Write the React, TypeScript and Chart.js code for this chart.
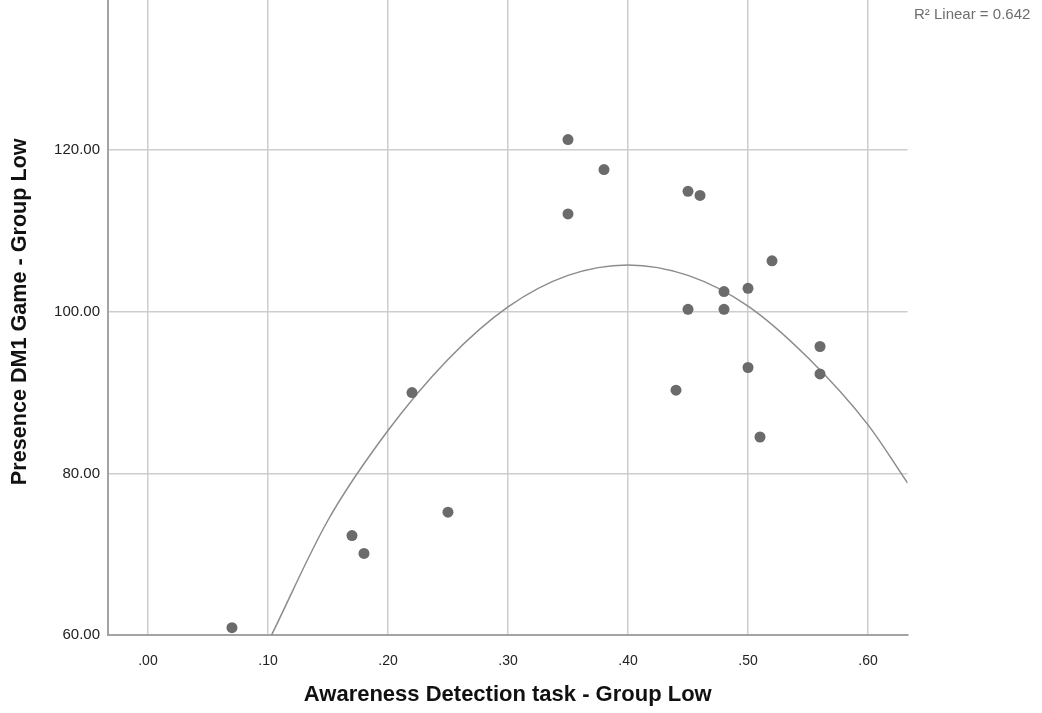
import React, { useEffect, useRef } from "react";
import { Chart, registerables } from "chart.js";

Chart.register(...registerables);

// Scatter data: Awareness Detection task (x) vs Presence DM1 Game (y), Group Low
const awareness = [0.07, 0.17, 0.18, 0.22, 0.25, 0.35, 0.35, 0.38, 0.44, 0.45, 0.45, 0.46, 0.48, 0.48, 0.5, 0.5, 0.51, 0.52, 0.56, 0.56];
const presence = [60.9, 72.3, 70.1, 90.0, 75.2, 121.3, 112.1, 117.6, 90.3, 114.9, 100.3, 114.4, 102.5, 100.3, 102.9, 93.1, 84.5, 106.3, 95.7, 92.3];

// Fit curve
const fitX = [0.103, 0.15, 0.2, 0.25, 0.3, 0.35, 0.4, 0.45, 0.5, 0.55, 0.6, 0.633];
const fitY = [60.0, 74.2, 85.3, 94.1, 100.6, 104.5, 105.8, 104.5, 100.7, 94.3, 86.0, 78.8];

const xTitle = "Awareness Detection task - Group Low";
const yTitle = "Presence DM1 Game - Group Low";
const r2Label = "R\u00B2 Linear = 0.642";

const FONT = "'Liberation Sans', Arial, sans-serif";
const Y_MAX = 140;

export default function App() {
  const ref = useRef<HTMLCanvasElement | null>(null);

  useEffect(() => {
    if (!ref.current) return;
    const r2Plugin = {
      id: "r2label",
      afterDraw(chart: any) {
        const ctx = chart.ctx;
        ctx.save();
        ctx.font = `15px ${FONT}`;
        ctx.fillStyle = "#6e6e6e";
        ctx.textAlign = "left";
        ctx.textBaseline = "middle";
        ctx.fillText(r2Label, 914, 15 + 17);
        ctx.restore();
      },
    };
    const chart = new Chart(ref.current, {
      type: "scatter",
      data: {
        datasets: [
          {
            label: "points",
            data: awareness.map((x, i) => ({ x, y: presence[i] })),
            backgroundColor: "#6b6b6b",
            borderWidth: 0,
            pointRadius: 5.5,
            pointHoverRadius: 5.5,
            clip: false as any,
          },
          {
            label: "fit",
            type: "line" as any,
            data: fitX.map((x, i) => ({ x, y: fitY[i] })),
            borderColor: "#8c8c8c",
            borderWidth: 1.5,
            pointRadius: 0,
            fill: false,
            cubicInterpolationMode: "monotone",
          } as any,
        ],
      },
      options: {
        animation: false,
        responsive: false,
        maintainAspectRatio: false,
        layout: { padding: { left: 0, right: 134.5, top: 0, bottom: 0 } },
        plugins: { legend: { display: false }, tooltip: { enabled: false }, title: { display: false } },
        scales: {
          x: {
            type: "linear",
            min: -0.0333,
            max: 0.6329,
            afterFit(scale: any) {
              scale.height = 78;
              scale.paddingLeft = 0;
              scale.paddingRight = 0;
            },
            ticks: {
              stepSize: 0.1,
              includeBounds: false,
              padding: 18,
              color: "#222",
              font: { family: FONT, size: 14 },
              callback: (v: any) => {
                const n = Math.round(Number(v) * 100) / 100;
                return n.toFixed(2).replace(/^0/, "");
              },
            },
            grid: { color: "#cdcdcd", lineWidth: 1.5, drawTicks: false },
            border: { color: "#a3a3a3", width: 2 },
            title: {
              display: true,
              text: xTitle,
              color: "#111",
              font: { family: FONT, size: 22, weight: "bold" },
              padding: { top: 5, bottom: 5 },
            },
          },
          y: {
            type: "linear",
            min: 60,
            max: Y_MAX,
            afterFit(scale: any) {
              scale.width = 108;
              scale.paddingTop = 0;
              scale.paddingBottom = 0;
            },
            ticks: {
              stepSize: 20,
              includeBounds: false,
              padding: 8,
              color: "#222",
              font: { family: FONT, size: 15 },
              callback: (v: any) => (Number(v) >= Y_MAX ? "" : Number(v).toFixed(2)),
            },
            grid: {
              color: (c: any) => (c.tick && c.tick.value >= Y_MAX ? "rgba(0,0,0,0)" : "#cdcdcd"),
              lineWidth: 1.5,
              drawTicks: false,
            },
            border: { color: "#a3a3a3", width: 2 },
            title: {
              display: true,
              text: yTitle,
              color: "#111",
              font: { family: FONT, size: 21.6, weight: "bold" },
              padding: { top: 7, bottom: 7 },
            },
          },
        },
      },
      plugins: [r2Plugin],
    });
    return () => chart.destroy();
  }, []);

  return (
    <div style={{ position: "absolute", left: 0, top: -17, width: 1042, height: 730, background: "#fff" }}>
      <canvas ref={ref} width={1042} height={730} style={{ width: 1042, height: 730, display: "block" }} />
    </div>
  );
}
